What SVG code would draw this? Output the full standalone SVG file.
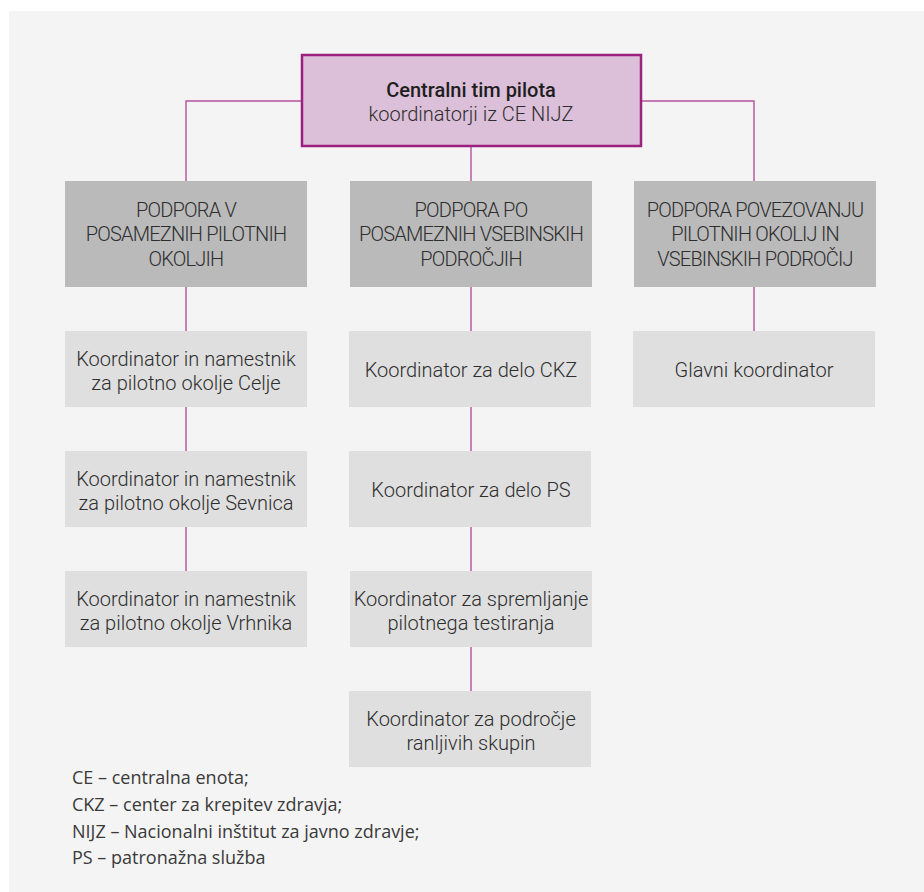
<svg xmlns="http://www.w3.org/2000/svg" width="924" height="892" viewBox="0 0 924 892">
<style>
.bg{fill:#f4f4f4}
.top{fill:#dcbfd8;stroke:#9b2080;stroke-width:2.5}
.l2{fill:#bababa}
.l3{fill:#dfdfdf}
.conn{fill:none;stroke:#b3519f;stroke-width:1.4}
.t{font-family:Roboto,"Liberation Sans",sans-serif;font-size:20px;font-weight:300;fill:#2e2e2e;text-anchor:middle}
.cap{letter-spacing:-0.8px}
.b{font-weight:500;fill:#1e1e1e}
.foot{font-family:"Open Sans","Liberation Sans",sans-serif;font-size:18px;fill:#3a3a3a}
</style>
<rect x="0" y="0" width="924" height="892" fill="#ffffff"/>
<rect class="bg" x="9" y="11" width="915" height="881"/>
<g id="connectors">
<path class="conn" d="M302 101 H186 V181"/>
<path class="conn" d="M641 101 H754 V181"/>
<path class="conn" d="M471 147 V181"/>
<path class="conn" d="M186 287 V331 M186 407 V451 M186 527 V571"/>
<path class="conn" d="M471 287 V331 M471 407 V451 M471 527 V571 M471 647 V691"/>
<path class="conn" d="M754 287 V331"/>
</g>
<g id="central">
<rect class="top" x="302" y="55" width="339" height="91"/>
<text class="t b" x="471" y="97">Centralni tim pilota</text>
<text class="t" x="471" y="121">koordinatorji iz CE NIJZ</text>
</g>
<g id="podpora-okolja">
<rect class="l2" x="65" y="181" width="242" height="106"/>
<text class="t cap" x="186" y="217">PODPORA V</text>
<text class="t cap" x="186" y="241">POSAMEZNIH PILOTNIH</text>
<text class="t cap" x="186" y="266">OKOLJIH</text>
</g>
<g id="podpora-podrocja">
<rect class="l2" x="350" y="181" width="242" height="106"/>
<text class="t cap" x="471" y="217">PODPORA PO</text>
<text class="t cap" x="471" y="241">POSAMEZNIH VSEBINSKIH</text>
<text class="t cap" x="471" y="266">PODROČJIH</text>
</g>
<g id="podpora-povezovanju">
<rect class="l2" x="634" y="181" width="242" height="106"/>
<text class="t cap" x="755" y="217">PODPORA POVEZOVANJU</text>
<text class="t cap" x="755" y="241">PILOTNIH OKOLIJ IN</text>
<text class="t cap" x="755" y="266">VSEBINSKIH PODROČIJ</text>
</g>
<g id="celje">
<rect class="l3" x="65" y="331" width="242" height="76"/>
<text class="t" x="186" y="366">Koordinator in namestnik</text>
<text class="t" x="186" y="390">za pilotno okolje Celje</text>
</g>
<g id="sevnica">
<rect class="l3" x="65" y="451" width="242" height="76"/>
<text class="t" x="186" y="486">Koordinator in namestnik</text>
<text class="t" x="186" y="510">za pilotno okolje Sevnica</text>
</g>
<g id="vrhnika">
<rect class="l3" x="65" y="571" width="242" height="76"/>
<text class="t" x="186" y="606">Koordinator in namestnik</text>
<text class="t" x="186" y="630">za pilotno okolje Vrhnika</text>
</g>
<g id="ckz">
<rect class="l3" x="349" y="331" width="242" height="76"/>
<text class="t" x="471" y="377">Koordinator za delo CKZ</text>
</g>
<g id="ps">
<rect class="l3" x="349" y="451" width="242" height="76"/>
<text class="t" x="471" y="497">Koordinator za delo PS</text>
</g>
<g id="spremljanje">
<rect class="l3" x="350" y="571" width="242" height="76"/>
<text class="t" x="471" y="606">Koordinator za spremljanje</text>
<text class="t" x="471" y="630">pilotnega testiranja</text>
</g>
<g id="ranljive">
<rect class="l3" x="349" y="691" width="242" height="76"/>
<text class="t" x="471" y="726">Koordinator za področje</text>
<text class="t" x="471" y="750">ranljivih skupin</text>
</g>
<g id="glavni">
<rect class="l3" x="633" y="331" width="242" height="76"/>
<text class="t" x="754" y="377">Glavni koordinator</text>
</g>
<g id="legend">
<text class="foot" x="72" y="784">CE – centralna enota;</text>
<text class="foot" x="72" y="811">CKZ – center za krepitev zdravja;</text>
<text class="foot" x="72" y="838">NIJZ – Nacionalni inštitut za javno zdravje;</text>
<text class="foot" x="72" y="864">PS – patronažna služba</text>
</g>
</svg>
